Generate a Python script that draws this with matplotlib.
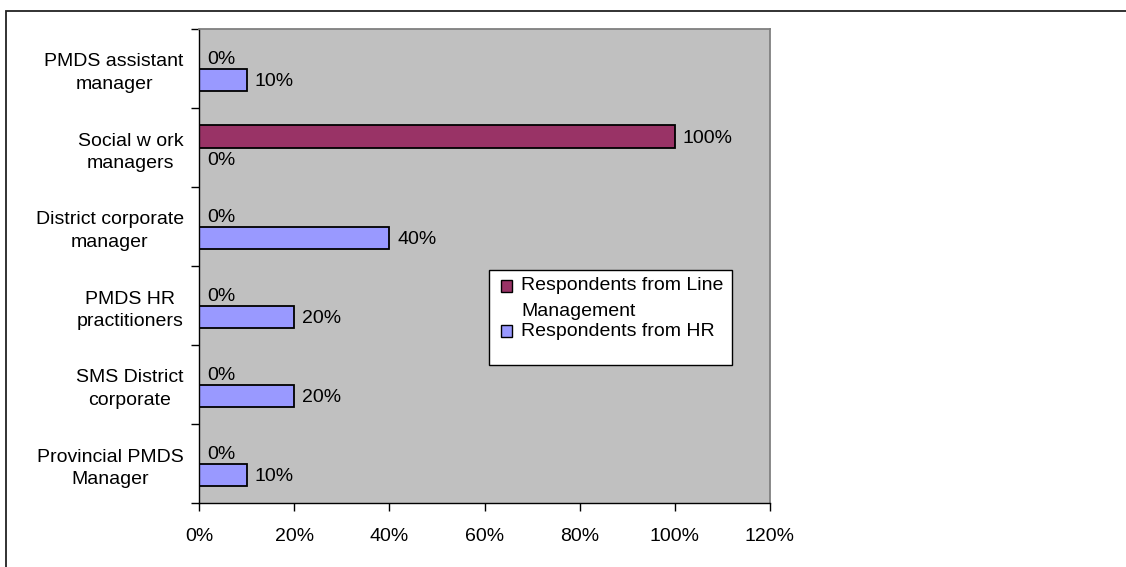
import matplotlib.pyplot as plt
from matplotlib.patches import Rectangle
from matplotlib.ticker import FuncFormatter
import numpy as np

plt.rcParams['font.family'] = ['Liberation Sans', 'DejaVu Sans']

# categories listed top to bottom
categories = ['PMDS assistant\nmanager', 'Social w ork\nmanagers', 'District corporate\nmanager',
              'PMDS HR\npractitioners', 'SMS District\ncorporate', 'Provincial PMDS\nManager']
line_mgmt = [0, 100, 0, 0, 0, 0]
hr = [10, 0, 40, 20, 20, 10]
series_names = ['Respondents from Line\nManagement', 'Respondents from HR']
colors = ['#993366', '#9999FF']

W, H = 1126, 567
fig = plt.figure(figsize=(W / 100, H / 100), dpi=100)
fig.patch.set_facecolor('white')

# outer chart border (left and top edges visible)
fig.patches.append(Rectangle((6 / W, -0.05), 1.2, 1 - 11 / H + 0.05, transform=fig.transFigure,
                             fill=False, edgecolor='#222222', linewidth=1.3))

ax = fig.add_axes([199 / W, 1 - 503 / H, 571 / W, 474 / H])
ax.set_facecolor('#C0C0C0')

y = np.arange(len(categories))
h = 1 / 3.5
bars1 = ax.barh(y - h / 2, line_mgmt, height=h, color=colors[0], edgecolor='black', linewidth=1.3)
bars2 = ax.barh(y + h / 2, hr, height=h, color=colors[1], edgecolor='black', linewidth=1.3)

for bars, vals in ((bars1, line_mgmt), (bars2, hr)):
    for b, v in zip(bars, vals):
        ax.annotate(f'{v}%', (v, b.get_y() + b.get_height() / 2), xytext=(8, -2),
                    textcoords='offset pixels', ha='left', va='center', fontsize=14, color='black')

ax.set_ylim(len(categories) - 0.5, -0.5)
ax.set_xlim(0, 120)
ax.set_xticks(np.arange(0, 121, 20))
ax.xaxis.set_major_formatter(FuncFormatter(lambda v, p: f'{v:.0f}%'))
ax.set_yticks(np.arange(len(categories) + 1) - 0.5, minor=False)
ax.set_yticklabels([])
ax.set_yticks(y, minor=True)
ax.set_yticklabels(categories, minor=True, fontsize=14, linespacing=1.4, multialignment='center')
ax.tick_params(axis='y', which='minor', length=0, pad=11)
ax.tick_params(axis='y', which='major', length=6, width=1, direction='out')
ax.tick_params(axis='x', length=6, width=1, direction='out', pad=12, labelsize=14)

for side in ('top', 'right'):
    ax.spines[side].set_color('#808080')
    ax.spines[side].set_linewidth(1.3)
for side in ('left', 'bottom'):
    ax.spines[side].set_color('black')
    ax.spines[side].set_linewidth(1.0)


def fx(px):
    return px / W


def fy(py):
    return 1 - py / H


# legend box
fig.patches.append(Rectangle((fx(489), fy(365)), fx(732) - fx(489), fy(270) - fy(365),
                             transform=fig.transFigure, facecolor='white', edgecolor='black',
                             linewidth=1.0, zorder=5))
marker_rows = [286, 331]
for name, col, row in zip(series_names, colors, marker_rows):
    fig.patches.append(Rectangle((fx(501), fy(row + 5.5)), fx(512) - fx(501), fy(row - 5.5) - fy(row + 5.5),
                                 transform=fig.transFigure, facecolor=col, edgecolor='black',
                                 linewidth=1.0, zorder=6))
    first, *rest = name.split('\n')
    fig.text(fx(521), fy(row), first, fontsize=14, ha='left', va='center', zorder=7)
    for i, line in enumerate(rest, start=1):
        fig.text(fx(521), fy(row + 26 * i), line, fontsize=14, ha='left', va='center', zorder=7)

fig.savefig('out.png', dpi=100)
